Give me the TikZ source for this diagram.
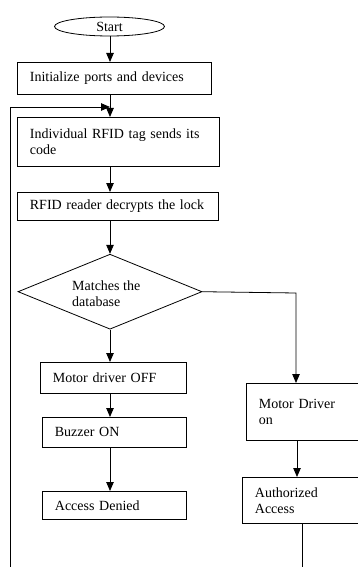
\documentclass[tikz,border=0pt]{standalone}
\usepackage{fontspec}
\setmainfont{Liberation Serif}
\usetikzlibrary{shapes.geometric,arrows.meta}

\tikzset{
  flow/.style={line width=0.8pt, draw=black},
  arr/.style={flow, -{Triangle[length=9pt,width=7.5pt]}},
  box/.style={flow, rectangle, inner sep=0pt, inner xsep=12.5pt,
              anchor=north west, align=left,
              font=\fontsize{14}{16}\selectfont},
  term/.style={flow, ellipse, inner sep=0pt,
               font=\fontsize{14}{16}\selectfont},
  decide/.style={flow, diamond, inner sep=0pt, aspect=2.45}
}

\begin{document}
\begin{tikzpicture}[x=1pt, y=-1pt]
  \useasboundingbox (0,0) rectangle (358,567);
  \clip (0,0) rectangle (358,567);

  % terminal and main column
  \node[term, minimum width=110pt, minimum height=19pt] (start) at (109.5,26.5) {Start};
  \node[box, minimum width=194pt, minimum height=32pt, text width=169pt] (init) at (17,62)
    {Initialize ports and devices};
  \node[box, minimum width=202pt, minimum height=49pt, text width=177pt] (tag) at (17,117)
    {Individual RFID tag sends its\\code};
  \node[box, minimum width=201pt, minimum height=28pt, text width=176pt] (reader) at (17,192)
    {RFID reader decrypts the lock};

  % decision
  \node[decide, minimum width=184pt, minimum height=75pt] (dec) at (110,291.7) {};
  \node[anchor=west, align=left, inner sep=0pt,
        font=\fontsize{14}{16.5}\selectfont] (dectext) at (72,293.5) {Matches the\\database};

  % denied branch
  \node[box, minimum width=146pt, minimum height=31pt, text width=121pt] (moff) at (40,362)
    {Motor driver OFF};
  \node[box, minimum width=144pt, minimum height=30pt, text width=119pt] (buzz) at (42,417)
    {Buzzer ON};
  \node[box, minimum width=144pt, minimum height=28pt, text width=119pt] (deny) at (42,491)
    {Access Denied};

  % granted branch
  \node[box, minimum width=140pt, minimum height=57pt, text width=115pt] (mon) at (246,383)
    {Motor Driver\\on};
  \node[box, minimum width=144pt, minimum height=46pt, text width=119pt] (auth) at (242,477)
    {Authorized\\Access};

  % connectors
  \coordinate (col) at (110,0);
  \draw[arr] (start.south -| col) -- (col |- init.north);
  \draw[arr] (col |- init.south) -- (col |- tag.north);
  \draw[arr] (col |- tag.south) -- (col |- reader.north);
  \draw[arr] (col |- reader.south) -- (dec.north);
  \draw[arr] (dec.south) -- (dec.south |- moff.north);
  \draw[arr] (col |- moff.south) -- (col |- buzz.north);
  \draw[arr] (col |- buzz.south) -- (col |- deny.north);

  \coordinate (turn) at (296,293);
  \draw[arr] (dec.east) -- (turn) -- (turn |- mon.north);
  \coordinate (rcol) at (297,0);
  \draw[arr] (rcol |- mon.south) -- (rcol |- auth.north);
  \coordinate (authout) at (302,567);
  \draw[flow] (authout |- auth.south) -- (authout);

  % return loop
  \coordinate (loopfoot) at (10,567);
  \coordinate (loophead) at (10,107);
  \draw[arr] (loopfoot) -- (loophead) -- (loophead -| col);
\end{tikzpicture}
\end{document}
